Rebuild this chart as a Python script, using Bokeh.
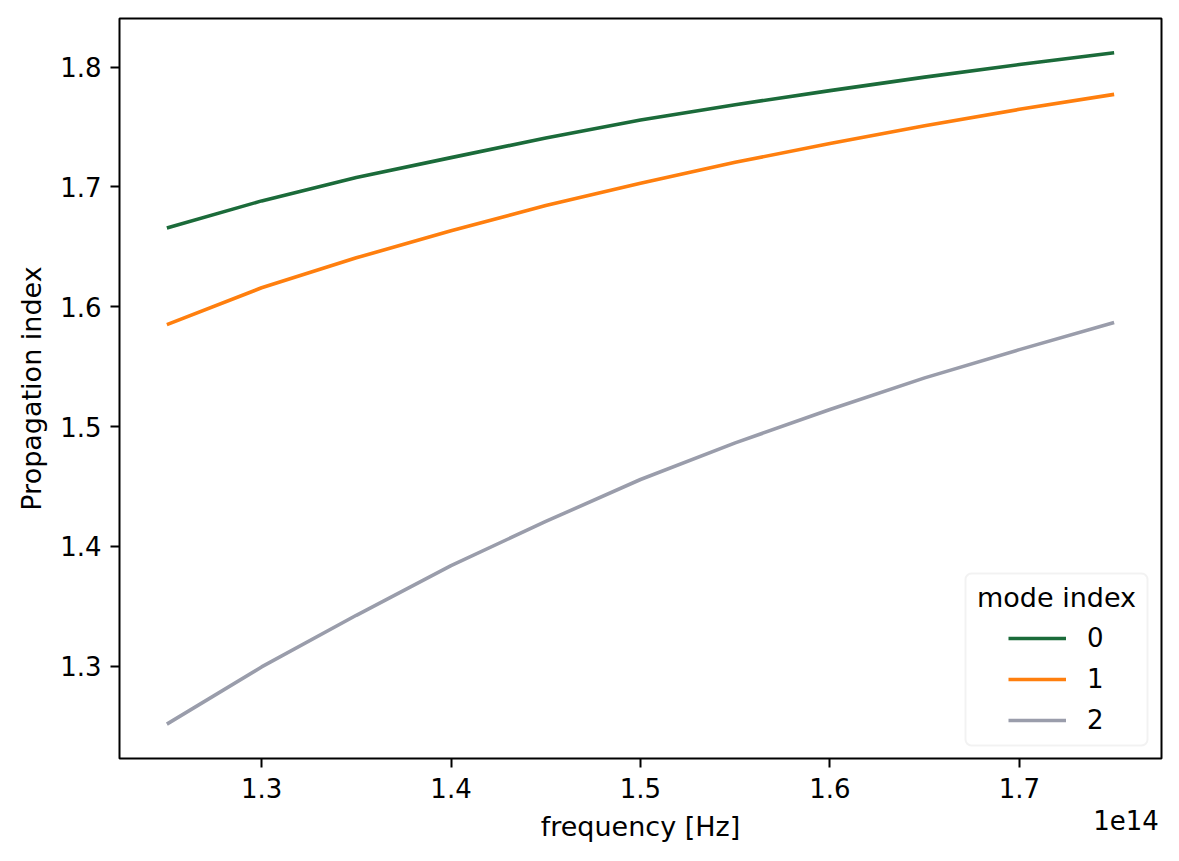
from bokeh.plotting import figure
from bokeh.models import (Range1d, FixedTicker, CustomJSTickFormatter, Legend, LegendItem,
                          Label, LinearAxis, BoxAnnotation)
from bokeh.embed import file_html
from bokeh.resources import INLINE

freq = [1.25e14, 1.30e14, 1.35e14, 1.40e14, 1.45e14, 1.50e14, 1.55e14, 1.60e14, 1.65e14, 1.70e14, 1.75e14]
mode0 = [1.6656, 1.6883, 1.7078, 1.7244, 1.7408, 1.7558, 1.7686, 1.7803, 1.7916, 1.8021, 1.8119]
mode1 = [1.5850, 1.6158, 1.6408, 1.6633, 1.6844, 1.7030, 1.7205, 1.7362, 1.7510, 1.7647, 1.7772]
mode2 = [1.2517, 1.2994, 1.3425, 1.3840, 1.4208, 1.4558, 1.4864, 1.5142, 1.5406, 1.5642, 1.5869]
labels = ["0", "1", "2"]
colors = ["#1b6b3a", "#ff7f0e", "#9a9dab"]
x_ticks = [1.3e14, 1.4e14, 1.5e14, 1.6e14, 1.7e14]
y_ticks = [1.3, 1.4, 1.5, 1.6, 1.7, 1.8]

FONT = "DejaVu Sans"
FS = "26px"
FS_L = "27px"

X0, X1 = 1.225e14, 1.775e14
Y0, Y1 = 1.223, 1.8405
FW, FH = 1042.0, 740.0  # frame size in px
px_x = FW / (X1 - X0)
px_y = FH / (Y1 - Y0)

def sx(px):  # frame-relative px (from left) -> data x
    return X0 + px / px_x

def sy(py):  # frame-relative px (from top) -> data y
    return Y1 - py / px_y

p = figure(width=1171, height=853, output_backend="svg", toolbar_location=None,
           x_range=Range1d(X0, X1), y_range=Range1d(Y0, Y1),
           min_border_left=119, min_border_right=10, min_border_top=18, min_border_bottom=95)
p.background_fill_color = "white"
p.border_fill_color = "white"
p.outline_line_color = "black"
p.outline_line_width = 2
p.grid.visible = False

renderers = []
for ys, c in zip([mode0, mode1, mode2], colors):
    r = p.line(freq, ys, line_color=c, line_width=3.6)
    renderers.append(r)

for ax in (p.xaxis[0], p.yaxis[0]):
    ax.axis_line_color = None
    ax.minor_tick_line_color = None
    ax.major_tick_line_width = 2
    ax.major_tick_out = 9
    ax.major_tick_in = 0
    ax.major_label_text_font = FONT
    ax.major_label_text_font_size = FS
    ax.major_label_text_color = "black"
    ax.axis_label_text_font = FONT
    ax.axis_label_text_font_size = FS_L
    ax.axis_label_text_font_style = "normal"
    ax.axis_label_text_color = "black"

p.xaxis.ticker = FixedTicker(ticks=x_ticks)
p.xaxis.formatter = CustomJSTickFormatter(code="return (tick/1e14).toFixed(1);")
p.xaxis.axis_label = "frequency [Hz]"
p.xaxis.major_label_standoff = 10
p.xaxis.axis_label_standoff = 10

p.yaxis.ticker = FixedTicker(ticks=y_ticks)
p.yaxis.formatter = CustomJSTickFormatter(code="return tick.toFixed(1);")
p.yaxis.axis_label = "Propagation index"
p.yaxis.major_label_standoff = 9
p.yaxis.axis_label_standoff = 10

# offset text "1e14" as a tick label of an extra, invisible axis below
off_axis = LinearAxis(ticker=FixedTicker(ticks=[sx(1125.5 - 119)]),
                      formatter=CustomJSTickFormatter(code="return '1e14';"),
                      axis_line_color=None, major_tick_line_color=None, minor_tick_line_color=None,
                      major_tick_out=0, major_tick_in=0, major_label_standoff=-35,
                      major_label_text_font=FONT, major_label_text_font_size=FS,
                      major_label_text_color="black")
p.add_layout(off_axis, "below")

# legend frame (matplotlib style), title and entries
box = BoxAnnotation(left=sx(965 - 119), right=sx(1147 - 119), top=sy(573 - 18), bottom=sy(745 - 18),
                    fill_color="white", fill_alpha=0.85, line_color="#d5d5d5", line_width=2,
                    border_radius=6, level="overlay")
p.add_layout(box)

title = Label(x=sx(1056 - 119), y=sy(597 - 18), text="mode index", text_align="center",
              text_baseline="middle", text_font=FONT, text_font_size=FS_L, text_color="black",
              level="overlay")
p.add_layout(title)

items = [LegendItem(label=l, renderers=[r]) for l, r in zip(labels, renderers)]
legend = Legend(items=items, location=(1008 - 119, 758 - 735),
                label_text_font=FONT, label_text_font_size=FS, label_text_color="black",
                glyph_width=58, glyph_height=28, label_height=28, spacing=11,
                padding=0, margin=0, label_standoff=21,
                border_line_color=None, background_fill_alpha=0.0)
p.add_layout(legend)

open("out.html", "w").write(file_html(p, INLINE))
